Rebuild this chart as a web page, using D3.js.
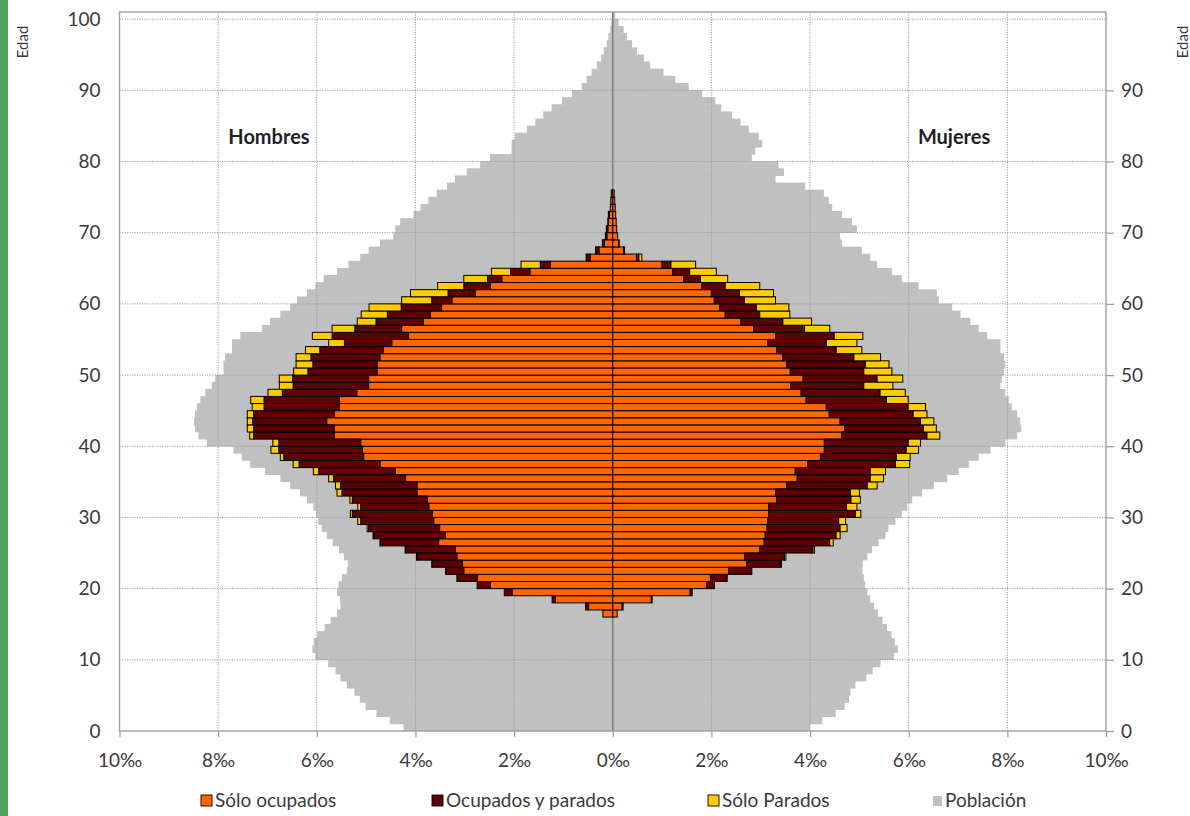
<!DOCTYPE html>
<html><head><meta charset="utf-8">
<script src="https://cdn.jsdelivr.net/npm/d3@7"></script>
<style>
body{margin:0;background:#fff;}
svg{display:block;font-family:Lato,"Liberation Sans",sans-serif;}
</style></head><body>
<svg id="chart" width="1190" height="816"></svg>
<script>
// ---------- DATA ----------
const edadesPoblacion = d3.range(0, 101);
const poblacionHombres = [4.24,4.52,4.79,5.01,5.13,5.24,5.39,5.52,5.62,5.77,6.03,6.09,6.06,5.99,5.84,5.72,5.59,5.52,5.53,5.59,5.56,5.49,5.39,5.37,5.45,5.55,5.68,5.80,5.90,5.97,6.01,6.07,6.20,6.34,6.54,6.74,7.05,7.35,7.52,7.69,8.23,8.40,8.47,8.49,8.47,8.43,8.36,8.26,8.13,8.06,7.89,7.89,7.86,7.72,7.72,7.55,7.11,6.95,6.74,6.54,6.40,6.20,6.03,5.86,5.59,5.36,5.12,4.95,4.72,4.45,4.41,4.31,4.04,3.90,3.74,3.57,3.36,3.20,2.96,2.69,2.49,2.05,2.05,1.98,1.74,1.57,1.41,1.24,1.03,0.83,0.63,0.53,0.43,0.32,0.24,0.18,0.12,0.09,0.05,0.03,0.02];
const poblacionMujeres = [4.00,4.25,4.52,4.70,4.79,4.82,4.92,5.14,5.27,5.43,5.70,5.78,5.72,5.65,5.56,5.47,5.38,5.30,5.22,5.16,5.12,5.09,5.06,5.07,5.16,5.26,5.39,5.53,5.59,5.73,5.86,5.97,6.07,6.27,6.51,6.78,7.01,7.22,7.42,7.66,7.96,8.20,8.28,8.26,8.20,8.09,8.03,7.96,7.86,7.89,7.93,7.96,7.93,7.86,7.86,7.59,7.42,7.25,7.05,6.88,6.61,6.57,6.20,5.86,5.66,5.36,5.22,5.05,4.65,4.61,4.95,4.85,4.65,4.45,4.38,4.28,3.90,3.30,3.47,3.36,2.82,2.89,3.03,2.96,2.76,2.59,2.42,2.20,2.08,1.81,1.54,1.27,1.03,0.76,0.63,0.49,0.39,0.29,0.22,0.12,0.05];

const edadesActividad = d3.range(16, 76);
const hombresSoloOcupados = [0.20,0.49,1.16,2.04,2.48,2.75,3.02,3.05,3.16,3.19,3.53,3.39,3.51,3.63,3.66,3.73,3.76,3.97,3.97,4.20,4.41,4.71,5.05,5.08,5.11,5.65,5.65,5.80,5.65,5.55,5.54,5.19,4.95,4.95,4.78,4.78,4.72,4.65,4.48,4.14,4.28,3.84,3.70,3.47,3.26,2.79,2.48,2.25,1.68,1.27,0.46,0.28,0.17,0.12,0.10,0.09,0.07,0.05,0.04,0.03];
const hombresOcupadosParados = [0,0.06,0.07,0.16,0.27,0.41,0.37,0.61,0.81,1.01,1.18,1.45,1.44,1.48,1.62,1.38,1.52,1.52,1.55,1.46,1.55,1.65,1.62,1.69,1.66,1.63,1.63,1.50,1.63,1.52,1.53,1.51,1.53,1.54,1.40,1.30,1.40,1.29,0.96,1.55,0.95,0.96,0.87,0.82,0.41,0.55,0.54,0.29,0.39,0.20,0.08,0.07,0.04,0.03,0.03,0.01,0.02,0,0,0];
const hombresSoloParados = [0,0,0,0,0,0,0,0.01,0.01,0.01,0.01,0.02,0.03,0.06,0.04,0.06,0.05,0.10,0.10,0.10,0.11,0.12,0.07,0.16,0.12,0.08,0.13,0.11,0.13,0.24,0.27,0.29,0.28,0.27,0.29,0.34,0.30,0.29,0.32,0.40,0.46,0.38,0.53,0.65,0.61,0.76,0.53,0.48,0.39,0.39,0,0,0,0,0,0,0,0,0,0];
const mujeresSoloOcupados = [0.09,0.19,0.78,1.57,1.90,1.98,2.35,2.72,2.68,2.98,3.07,3.09,3.13,3.14,3.16,3.16,3.32,3.30,3.53,3.74,3.70,3.95,4.21,4.29,4.29,4.64,4.70,4.61,4.39,4.33,3.92,3.82,3.61,3.86,3.60,3.53,3.45,3.32,3.14,3.30,2.86,2.60,2.28,2.17,2.06,2.00,1.81,1.44,1.22,1.00,0.48,0.22,0.12,0.10,0.08,0.07,0.06,0.05,0.04,0.03];
const mujeresOcupadosParados = [0,0.02,0.02,0.04,0.16,0.34,0.47,0.68,0.80,1.08,1.33,1.44,1.48,1.44,1.76,1.58,1.51,1.52,1.63,1.48,1.52,1.78,1.54,1.66,1.70,1.73,1.60,1.63,1.70,1.66,1.63,1.60,1.48,1.50,1.49,1.59,1.44,1.21,1.19,1.19,1.03,0.85,0.70,0.74,0.61,0.57,0.47,0.34,0.34,0.18,0.05,0.02,0.01,0,0,0,0,0,0,0];
const mujeresSoloParados = [0,0,0,0,0,0,0,0.02,0.03,0.03,0.07,0.08,0.14,0.14,0.11,0.21,0.19,0.18,0.20,0.27,0.31,0.29,0.28,0.25,0.25,0.26,0.26,0.27,0.28,0.35,0.44,0.51,0.59,0.52,0.57,0.48,0.54,0.52,0.62,0.58,0.51,0.58,0.61,0.66,0.63,0.69,0.70,0.55,0.54,0.50,0.06,0,0,0,0,0,0,0,0,0];

const xTicks = [-10,-8,-6,-4,-2,0,2,4,6,8,10];
const yTicksLeft = [0,10,20,30,40,50,60,70,80,90,100];
const yTicksRight = [0,10,20,30,40,50,60,70,80,90];
const seriesKeys = ["soloOcupados","ocupadosParados","soloParados"];
const legendLabels = ["Sólo ocupados","Ocupados y parados","Sólo Parados","Población"];
const seriesColors = ["#FF6600","#5C0000","#FFCC00","#C0C0C0"];
const sexLabels = ["Hombres","Mujeres"];

// ---------- CHART ----------
const svg = d3.select("#chart");
const x = d3.scaleLinear().domain([-10,10]).range([119.5,1106]);
const y = d3.scaleLinear().domain([0,101]).range([731,12]);
const band = y(0) - y(1);
const FONT = "Lato, 'Liberation Sans', sans-serif";

svg.append("rect").attr("x",0).attr("y",0).attr("width",8).attr("height",816).attr("fill","#52A15F");

// population
const popRows = edadesPoblacion.map((a,i)=>({edad:a,h:poblacionHombres[i],m:poblacionMujeres[i]}));
const gPop = svg.append("g").attr("fill",seriesColors[3]);
gPop.selectAll("rect.h").data(popRows).join("rect").attr("class","h")
  .attr("x",d=>x(-d.h)).attr("width",d=>x(0)-x(-d.h))
  .attr("y",d=>y(d.edad+1)-0.3).attr("height",band+0.6);
gPop.selectAll("rect.m").data(popRows).join("rect").attr("class","m")
  .attr("x",x(0)).attr("width",d=>x(d.m)-x(0))
  .attr("y",d=>y(d.edad+1)-0.3).attr("height",band+0.6);

// gridlines
const grid = svg.append("g").attr("stroke","#9a9a9a").attr("stroke-width",1).attr("stroke-dasharray","1.2,1.3");
grid.selectAll("line.hz").data(yTicksLeft.filter(t=>t>0)).join("line").attr("class","hz")
  .attr("x1",x(-10)).attr("x2",x(10)).attr("y1",d=>y(d)).attr("y2",d=>y(d));
grid.selectAll("line.vt").data(xTicks.filter(t=>t!==0 && Math.abs(t)<10)).join("line").attr("class","vt")
  .attr("x1",d=>x(d)).attr("x2",d=>x(d)).attr("y1",y(101)).attr("y2",y(0));

// center line
svg.append("line").attr("x1",x(0)).attr("x2",x(0)).attr("y1",y(101)).attr("y2",y(0))
  .attr("stroke","#7f7f7f").attr("stroke-width",1.6);

// stacked activity bars
function stackFor(o,b,p){
  const rows = edadesActividad.map((a,i)=>({edad:a,soloOcupados:o[i],ocupadosParados:b[i],soloParados:p[i]}));
  return d3.stack().keys(seriesKeys)(rows);
}
const stH = stackFor(hombresSoloOcupados,hombresOcupadosParados,hombresSoloParados);
const stM = stackFor(mujeresSoloOcupados,mujeresOcupadosParados,mujeresSoloParados);
const gBars = svg.append("g").attr("stroke","#000").attr("stroke-width",1);
stH.forEach((s,k)=>{
  gBars.append("g").attr("fill",seriesColors[k]).selectAll("rect")
    .data(s.filter(d=>d[1]-d[0]>0.004)).join("rect")
    .attr("x",d=>x(-d[1])).attr("width",d=>x(-d[0])-x(-d[1]))
    .attr("y",d=>y(d.data.edad+1)).attr("height",band);
});
stM.forEach((s,k)=>{
  gBars.append("g").attr("fill",seriesColors[k]).selectAll("rect")
    .data(s.filter(d=>d[1]-d[0]>0.004)).join("rect")
    .attr("x",d=>x(d[0])).attr("width",d=>x(d[1])-x(d[0]))
    .attr("y",d=>y(d.data.edad+1)).attr("height",band);
});

// frame
svg.append("rect").attr("x",x(-10)).attr("y",y(101)).attr("width",x(10)-x(-10)).attr("height",y(0)-y(101))
  .attr("fill","none").attr("stroke","#a0a0a0").attr("stroke-width",1.4);

// axes
function styleAxis(g){
  g.select(".domain").remove();
  g.selectAll(".tick line").attr("stroke","#a0a0a0").attr("stroke-width",1.3);
  g.selectAll(".tick text").attr("fill","#3a3a3a").attr("font-size",19).attr("font-family",FONT);
}
svg.append("g").attr("transform",`translate(0,${y(0)})`)
  .call(d3.axisBottom(x).tickValues(xTicks).tickSize(6).tickPadding(17).tickFormat(d=>Math.abs(d)+"‰"))
  .call(styleAxis);
svg.append("g").attr("transform",`translate(${x(-10)},0)`)
  .call(d3.axisLeft(y).tickValues(yTicksLeft).tickSize(0).tickPadding(19))
  .call(styleAxis);
svg.append("g").attr("transform",`translate(${x(10)},0)`)
  .call(d3.axisRight(y).tickValues(yTicksRight).tickSize(8).tickPadding(7))
  .call(styleAxis);

// axis titles
svg.append("text").attr("transform","translate(28,42) rotate(-90)").attr("text-anchor","middle")
  .attr("font-size",15).attr("fill","#3a3a3a").text("Edad");
svg.append("text").attr("transform","translate(1188,42) rotate(-90)").attr("text-anchor","middle")
  .attr("font-size",15).attr("fill","#3a3a3a").text("Edad");

// sex labels
svg.append("text").attr("x",x(-6.97)).attr("y",y(82.4)).attr("text-anchor","middle")
  .attr("font-size",20).attr("font-weight","bold").attr("fill","#1f1f2a").text(sexLabels[0]);
svg.append("text").attr("x",x(6.92)).attr("y",y(82.4)).attr("text-anchor","middle")
  .attr("font-size",20).attr("font-weight","bold").attr("fill","#1f1f2a").text(sexLabels[1]);

// legend
const legX = [201,432,708,933];
const leg = svg.append("g");
legendLabels.forEach((t,i)=>{
  const g = leg.append("g").attr("transform",`translate(${legX[i]},795)`);
  g.append("rect").attr("width",i===3?9:11).attr("height",i===3?10:11).attr("y",i===3?1:0)
    .attr("fill",seriesColors[i]).attr("stroke",i===3?"none":"#000").attr("stroke-width",0.9);
  g.append("text").attr("x",i===3?12:14).attr("y",12).attr("font-size",19).attr("fill","#3a3a3a").text(t);
});
</script>
</body></html>
